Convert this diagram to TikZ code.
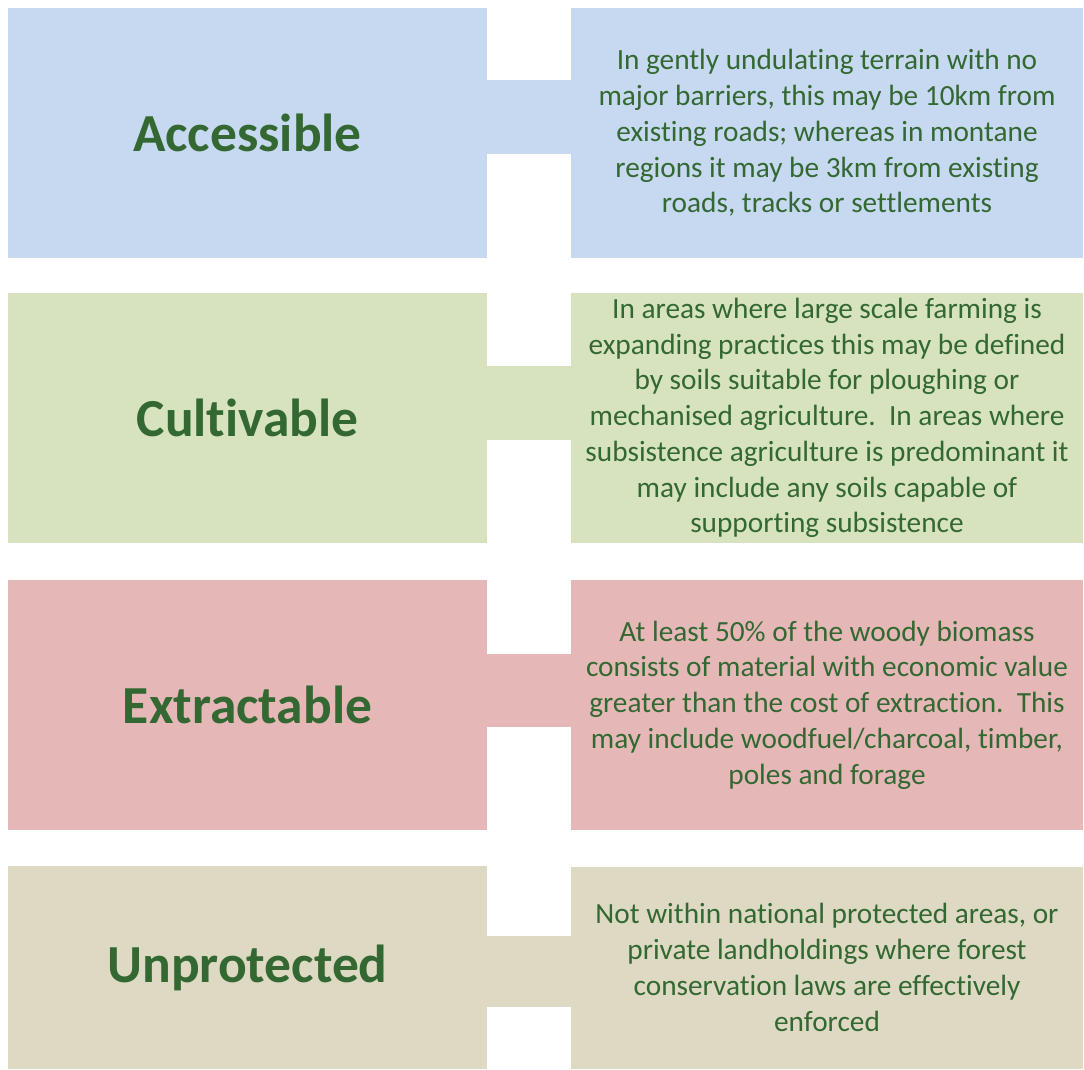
\documentclass[tikz,border=0pt]{standalone}
\usepackage{fontspec}
\setmainfont[Ligatures=NoCommon]{Carlito}
\definecolor{textgreen}{RGB}{52,104,50}
\definecolor{accfill}{RGB}{198,217,240}
\definecolor{cultfill}{RGB}{215,227,191}
\definecolor{extrfill}{RGB}{229,184,183}
\definecolor{unprfill}{RGB}{221,217,195}

\begin{document}
\begin{tikzpicture}
  [x=1pt, y=-1pt,
   every node/.style={inner sep=0pt, outer sep=0pt, text=textgreen},
   catbox/.style={minimum width=479pt, minimum height=250pt,
     font=\fontsize{53.5}{64}\selectfont\bfseries},
   descbox/.style={minimum width=512pt, minimum height=250pt, align=center,
     font=\fontsize{29.3}{35.75}\selectfont}]
  \useasboundingbox (0,0) rectangle (1084,1069);

  % row 1
  \node[catbox, fill=accfill] (acc) at (247.5,133) {Accessible};
  \node[descbox, fill=accfill] (accd) at (827,133)
    {In gently undulating terrain with no\\
     major barriers, this may be 10km from\\
     existing roads; whereas in montane\\
     regions it may be 3km from existing\\
     roads, tracks or settlements};
  \fill[accfill] ([yshift=-72pt]acc.north east) rectangle ([yshift=-146pt]accd.north west);

  % row 2
  \node[catbox, fill=cultfill] (cult) at (247.5,418) {Cultivable};
  \node[descbox, fill=cultfill] (cultd) at (827,418)
    {In areas where large scale farming is\\
     expanding practices this may be defined\\
     by soils suitable for ploughing or\\
     mechanised agriculture.\ \ In areas where\\
     subsistence agriculture is predominant it\\
     may include any soils capable of\\
     supporting subsistence};
  \fill[cultfill] ([yshift=-73pt]cult.north east) rectangle ([yshift=-147pt]cultd.north west);

  % row 3
  \node[catbox, fill=extrfill] (extr) at (247.5,705) {Extractable};
  \node[descbox, fill=extrfill] (extrd) at (827,705)
    {At least 50\% of the woody biomass\\
     consists of material with economic value\\
     greater than the cost of extraction.\ \ This\\
     may include woodfuel/charcoal, timber,\\
     poles and forage};
  \fill[extrfill] ([yshift=-74pt]extr.north east) rectangle ([yshift=-147pt]extrd.north west);

  % row 4
  \node[catbox, fill=unprfill, minimum height=203pt] (unpr) at (247.5,967.5) {Unprotected};
  \node[descbox, fill=unprfill, minimum height=202pt] (unprd) at (827,967.5)
    {Not within national protected areas, or\\
     private landholdings where forest\\
     conservation laws are effectively\\
     enforced};
  \fill[unprfill] ([yshift=-70pt]unpr.north east) rectangle ([yshift=-140pt]unprd.north west);
\end{tikzpicture}
\end{document}
